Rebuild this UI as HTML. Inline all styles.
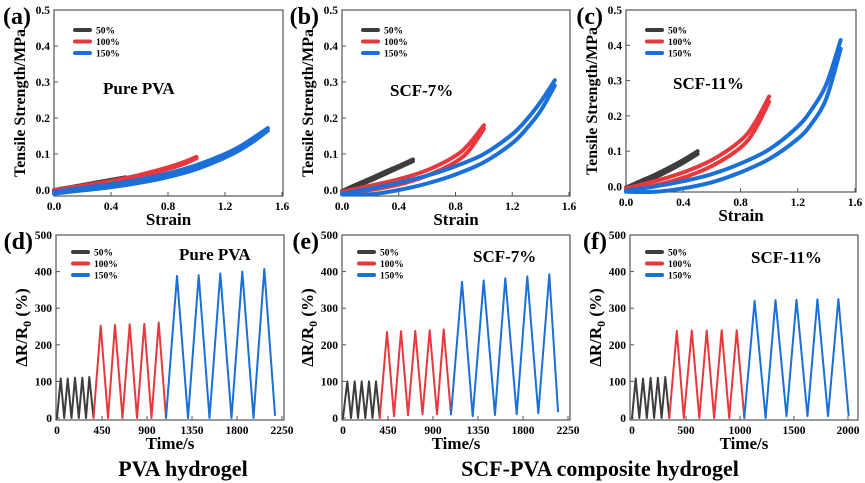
<!DOCTYPE html>
<html><head><meta charset="utf-8">
<style>
html,body{margin:0;padding:0;background:#fff;}
svg{display:block;font-family:"Liberation Serif","Times New Roman",serif;font-weight:bold;}
svg text{font-family:"Liberation Serif","Times New Roman",serif;font-weight:bold;}
</style></head>
<body>
<svg id="fig" width="865" height="483" viewBox="0 0 865 483" xmlns="http://www.w3.org/2000/svg">
<text x="183" y="476" font-size="22" text-anchor="middle" font-family="Liberation Serif, serif">PVA hydrogel</text>
<text x="600" y="476" font-size="22" text-anchor="middle" font-family="Liberation Serif, serif">SCF-PVA composite hydrogel</text>
</svg>
<script>
// ---- data: tensile panels (strain / stress) ----
const strainBlack = [0, 0.1, 0.2, 0.3, 0.4, 0.5];
const strainRed = [0, 0.2, 0.4, 0.6, 0.8, 0.9, 1.0];
const strainBlue = [0, 0.2, 0.4, 0.6, 0.8, 1.0, 1.2, 1.3, 1.4, 1.5];
const aBlackLoad = [0, 0.007, 0.014, 0.021, 0.028, 0.035];
const aBlackUnload = [-0.003, 0.004, 0.011, 0.018, 0.025, 0.033];
const aRedLoad = [0, 0.012, 0.025, 0.042, 0.063, 0.076, 0.092];
const aRedUnload = [-0.004, 0.008, 0.021, 0.037, 0.058, 0.071, 0.088];
const aBlueLoad = [-0.005, 0.006, 0.016, 0.029, 0.046, 0.069, 0.1, 0.12, 0.145, 0.172];
const aBlueUnload = [-0.01, -0.001, 0.008, 0.02, 0.036, 0.058, 0.09, 0.11, 0.135, 0.165];
const bBlackLoad = [-0.003, 0.015, 0.032, 0.05, 0.067, 0.085];
const bBlackUnload = [-0.008, 0.009, 0.026, 0.044, 0.062, 0.08];
const bRedLoad = [-0.005, 0.012, 0.03, 0.055, 0.095, 0.13, 0.18];
const bRedUnload = [-0.01, 0, 0.015, 0.04, 0.078, 0.112, 0.17];
const bBlueLoad = [-0.01, 0.004, 0.02, 0.04, 0.066, 0.1, 0.155, 0.195, 0.245, 0.305];
const bBlueUnload = [-0.012, -0.012, 0, 0.018, 0.043, 0.077, 0.13, 0.17, 0.22, 0.29];
const cBlackLoad = [-0.003, 0.015, 0.033, 0.053, 0.075, 0.1];
const cBlackUnload = [-0.008, 0.008, 0.025, 0.045, 0.067, 0.092];
const cRedLoad = [-0.005, 0.015, 0.04, 0.075, 0.13, 0.18, 0.255];
const cRedUnload = [-0.01, 0.003, 0.025, 0.058, 0.11, 0.16, 0.24];
const cBlueLoad = [-0.012, 0, 0.015, 0.035, 0.065, 0.105, 0.17, 0.22, 0.29, 0.415];
const cBlueUnload = [-0.015, -0.015, -0.005, 0.012, 0.04, 0.078, 0.135, 0.18, 0.25, 0.39];
const strainTicks = ["0.0", "0.4", "0.8", "1.2", "1.6"];
const stressTicks = ["0.0", "0.1", "0.2", "0.3", "0.4", "0.5"];

// ---- data: resistance panels (time / ΔR/R0) ----
const dBlackT = [0, 37, 72, 107, 145, 180, 218, 253, 290, 323, 365];
const dBlackV = [0, 108, 0, 108, 0, 110, 0, 110, 0, 112, 0];
const dRedT = [365, 437, 510, 580, 655, 727, 800, 873, 945, 1017, 1090];
const dRedV = [0, 252, 0, 254, 0, 256, 0, 257, 0, 261, 0];
const dBlueT = [1090, 1200, 1310, 1417, 1525, 1633, 1745, 1853, 1965, 2073, 2180];
const dBlueV = [0, 388, 0, 390, 0, 395, 0, 400, 0, 407, 8];
const eBlackT = [0, 43, 80, 117, 150, 187, 223, 260, 295, 330, 367];
const eBlackV = [0, 100, 0, 100, 0, 100, 0, 100, 0, 100, 0];
const eRedT = [367, 440, 510, 580, 650, 723, 795, 867, 940, 1007, 1080];
const eRedV = [0, 235, 5, 237, 8, 238, 10, 240, 10, 242, 10];
const eBlueT = [1080, 1190, 1297, 1407, 1520, 1623, 1737, 1843, 1953, 2063, 2150];
const eBlueV = [10, 372, 5, 376, 8, 382, 10, 387, 13, 393, 18];
const fBlackT = [0, 34, 68, 102, 137, 172, 205, 240, 274, 308, 345];
const fBlackV = [0, 108, 0, 108, 0, 110, 0, 110, 0, 112, 0];
const fRedT = [345, 415, 480, 554, 623, 692, 760, 831, 900, 969, 1040];
const fRedV = [0, 238, 0, 239, 0, 239, 0, 240, 0, 240, 0];
const fBlueT = [1040, 1135, 1237, 1329, 1431, 1523, 1625, 1717, 1815, 1911, 2006];
const fBlueV = [0, 320, 0, 322, 5, 323, 5, 324, 5, 325, 8];
const timeTicksDE = ["0", "450", "900", "1350", "1800", "2250"];
const timeTicksF = ["0", "500", "1000", "1500", "2000"];
const resTicks = ["0", "100", "200", "300", "400", "500"];
const legendLabels = ["50%", "100%", "150%"];

const NS = "http://www.w3.org/2000/svg";
const svg = document.getElementById("fig");
const COLORS = ["#3d3d3d", "#e8383d", "#1a6fd9"];
function mk(tag, attrs, parent) {
  const e = document.createElementNS(NS, tag);
  for (const k in attrs) e.setAttribute(k, attrs[k]);
  (parent || svg).appendChild(e);
  return e;
}
function txt(x, y, s, size, anchor, parent) {
  const t = mk("text", {x: x, y: y, "font-size": size, "text-anchor": anchor || "middle", "font-family": "Liberation Serif, Times New Roman, serif", "font-weight": "bold"}, parent);
  t.textContent = s;
  return t;
}
function smoothPath(pts) {
  let d = "M" + pts[0][0].toFixed(1) + " " + pts[0][1].toFixed(1);
  for (let i = 0; i < pts.length - 1; i++) {
    const p0 = pts[Math.max(0, i - 1)], p1 = pts[i], p2 = pts[i + 1], p3 = pts[Math.min(pts.length - 1, i + 2)];
    const c1x = p1[0] + (p2[0] - p0[0]) / 6, c1y = p1[1] + (p2[1] - p0[1]) / 6;
    const c2x = p2[0] - (p3[0] - p1[0]) / 6, c2y = p2[1] - (p3[1] - p1[1]) / 6;
    d += " C" + c1x.toFixed(1) + " " + c1y.toFixed(1) + " " + c2x.toFixed(1) + " " + c2y.toFixed(1) + " " + p2[0].toFixed(1) + " " + p2[1].toFixed(1);
  }
  return d;
}

function panel(cfg) {
  const g = mk("g", {});
  
  
  const sx = v => cfg.x0 + (v - cfg.xmin) / (cfg.xmax - cfg.xmin) * (cfg.x1 - cfg.x0);
  const sy = v => cfg.y0 + (v - cfg.ymin) / (cfg.ymax - cfg.ymin) * (cfg.y1 - cfg.y0);
  const fr = mk("rect", {x: cfg.fl, y: cfg.ft, width: cfg.fr - cfg.fl, height: cfg.fb - cfg.ft, fill: "none", stroke: "#555", "stroke-width": 1.2}, g);
  
  
  const xg = mk("g", {}, g);
  
  
  cfg.xticks.forEach((lab) => {
    const px = sx(parseFloat(lab));
    mk("line", {x1: px, x2: px, y1: cfg.fb, y2: cfg.fb - 4, stroke: "#555", "stroke-width": 1}, xg);
    txt(px, cfg.fb + 14, lab, 11.5, "middle", xg);
  });
  const yg = mk("g", {}, g);
  
  
  cfg.yticks.forEach((lab) => {
    const py = sy(parseFloat(lab));
    mk("line", {x1: cfg.fl, x2: cfg.fl + 4, y1: py, y2: py, stroke: "#555", "stroke-width": 1}, yg);
    txt(cfg.fl - 4, py + 4, lab, 11.5, "end", yg);
  });
  const xt = txt((cfg.fl + cfg.fr) / 2, cfg.fb + 29, cfg.xtitle, 17, "middle", g);
  
  
  const ytx = cfg.fl - 29, yty = (cfg.ft + cfg.fb) / 2;
  const yt = mk("text", {x: ytx, y: yty, "font-size": cfg.ytsize, "text-anchor": "middle", "font-family": "Liberation Serif, Times New Roman, serif", "font-weight": "bold", transform: "rotate(-90 " + ytx + " " + yty + ")"}, g);
  
  
  if (cfg.resist) {
    yt.appendChild(document.createTextNode("\u0394R/R"));
    const sub = mk("tspan", {"font-size": 12, dy: 4}, yt); sub.textContent = "0";
    const rest = mk("tspan", {dy: -4}, yt); rest.textContent = " (%)";
  } else yt.textContent = cfg.ytitle;
  const pl = txt(cfg.fl - 23, cfg.ft + 14, cfg.letter, 24, "end", g);
  
  
  const il = txt(cfg.lx, cfg.ly, cfg.label, 17, "start", g);
  
  
  cfg.series.forEach((s, i) => {
    const sg = mk("g", {}, g);
    
    
    s.forEach(curve => {
      const pts = curve.xs.map((v, k) => [sx(v), sy(curve.ys[k])]);
      const d = cfg.smooth ? smoothPath(pts) : pts.map((p, k) => (k ? "L" : "M") + p[0].toFixed(1) + " " + p[1].toFixed(1)).join(" ");
      const p = mk("path", {d: d, fill: "none", stroke: COLORS[i], "stroke-width": cfg.sw, "stroke-linejoin": "round", "stroke-linecap": "round"}, sg);
      
      
    });
  });
  const lg = mk("g", {}, g);
  
  
  legendLabels.forEach((lab, i) => {
    const y = cfg.legY + i * 11.5;
    const ln = mk("line", {x1: cfg.legX, x2: cfg.legX + 15, y1: y, y2: y, stroke: COLORS[i], "stroke-width": 4, "stroke-linecap": "round"}, lg);
    
    
    const t = txt(cfg.legX + 21, y + 3.5, lab, 9.5, "start", lg);
    
    
  });
}

function tensileSeries(bl, bu, rl, ru, ul, uu) {
  const rev = a => a.slice().reverse();
  return [
    [{xs: strainBlack, ys: bl}, {xs: rev(strainBlack), ys: rev(bu)}],
    [{xs: strainRed, ys: rl}, {xs: rev(strainRed), ys: rev(ru)}],
    [{xs: strainBlue, ys: ul}, {xs: rev(strainBlue), ys: rev(uu)}]
  ];
}
function tensile(name, letter, label, x0, x1, y0, yTop, fb, lx, ly, ser) {
  panel({name: name, letter: letter, label: label, lx: lx, ly: ly, smooth: true,
    x0: x0, x1: x1, xmin: 0, xmax: 1.6, y0: y0, y1: yTop, ymin: 0, ymax: 0.5,
    fl: x0, fr: x1 + 1, ft: yTop, fb: fb,
    xticks: strainTicks, yticks: stressTicks, xtitle: "Strain", ytitle: "Tensile Strength/MPa", ytsize: 16,
    sw: 4, series: ser, legX: x0 + 21, legY: 30});
}
tensile("panel-a-pure-pva-tensile", "(a)", "Pure PVA", 54, 282, 190, 10, 196, 103, 94,
  tensileSeries(aBlackLoad, aBlackUnload, aRedLoad, aRedUnload, aBlueLoad, aBlueUnload));
tensile("panel-b-scf7-tensile", "(b)", "SCF-7%", 342, 569, 190, 10, 196, 390, 96,
  tensileSeries(bBlackLoad, bBlackUnload, bRedLoad, bRedUnload, bBlueLoad, bBlueUnload));
tensile("panel-c-scf11-tensile", "(c)", "SCF-11%", 626, 855, 186.5, 10, 192, 673, 89,
  tensileSeries(cBlackLoad, cBlackUnload, cRedLoad, cRedUnload, cBlueLoad, cBlueUnload));

function resist(name, letter, label, x0, x1, xmax, ticks, fl, fr, lx, ly, bt, bv, rt, rv, ut, uv) {
  panel({name: name, letter: letter, label: label, lx: lx, ly: ly, resist: true, smooth: false,
    x0: x0, x1: x1, xmin: 0, xmax: xmax, y0: 418, y1: 235, ymin: 0, ymax: 500,
    fl: fl, fr: fr, ft: 235, fb: 420,
    xticks: ticks, yticks: resTicks, xtitle: "Time/s", ytsize: 17,
    sw: 2, series: [[{xs: bt, ys: bv}], [{xs: rt, ys: rv}], [{xs: ut, ys: uv}]],
    legX: fl + 17, legY: 252});
}
resist("panel-d-pure-pva-resistance", "(d)", "Pure PVA", 57, 282, 2250, timeTicksDE, 56, 284, 179, 260,
  dBlackT, dBlackV, dRedT, dRedV, dBlueT, dBlueV);
resist("panel-e-scf7-resistance", "(e)", "SCF-7%", 343, 568, 2250, timeTicksDE, 342, 570, 473, 262,
  eBlackT, eBlackV, eRedT, eRedV, eBlueT, eBlueV);
resist("panel-f-scf11-resistance", "(f)", "SCF-11%", 632, 848, 2000, timeTicksF, 630, 858, 751, 263,
  fBlackT, fBlackV, fRedT, fRedV, fBlueT, fBlueV);
</script>
</body></html>
